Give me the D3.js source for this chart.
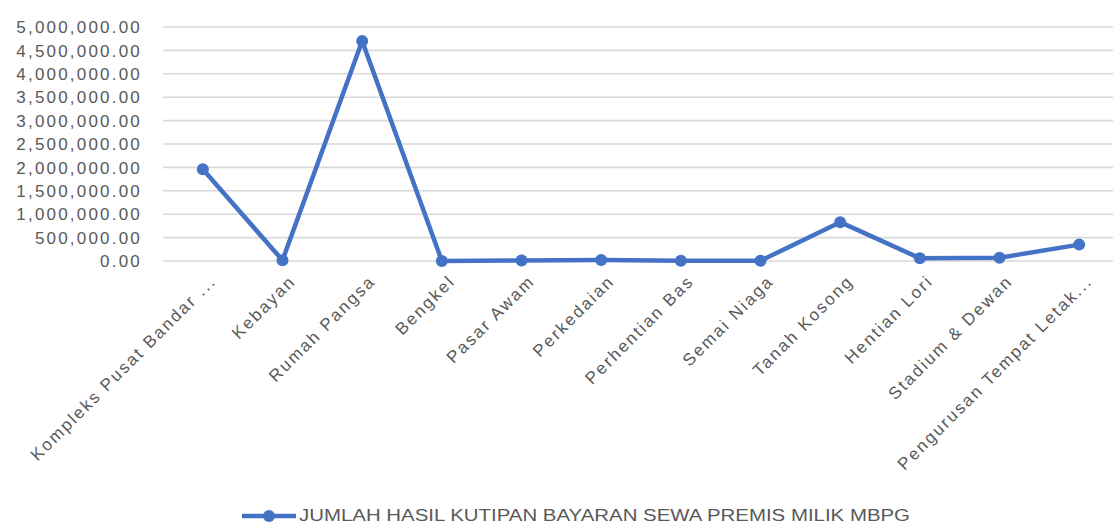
<!DOCTYPE html>
<html>
<head>
<meta charset="utf-8">
<script src="https://cdn.jsdelivr.net/npm/d3@7"></script>
<style>
  html, body { margin: 0; padding: 0; background: #fff; }
  svg { display: block; }
  text { font-family: "Liberation Sans", Arial, sans-serif; fill: #595959; }
</style>
</head>
<body>
<svg id="chart" width="1113" height="525"></svg>
<script>
const categories = [
  "Kompleks Pusat Bandar ...",
  "Kebayan",
  "Rumah Pangsa",
  "Bengkel",
  "Pasar Awam",
  "Perkedaian",
  "Perhentian Bas",
  "Semai Niaga",
  "Tanah Kosong",
  "Hentian Lori",
  "Stadium & Dewan",
  "Pengurusan Tempat Letak..."
];
const values = [1960000, 15000, 4700000, 2000, 10000, 20000, 3000, 5000, 830000, 60000, 70000, 350000];
const yTicks = [0, 500000, 1000000, 1500000, 2000000, 2500000, 3000000, 3500000, 4000000, 4500000, 5000000];
const seriesName = "JUMLAH HASIL KUTIPAN BAYARAN SEWA PREMIS MILIK MBPG";

const svg = d3.select("#chart");
const blue = "#4472C4";

const x = d3.scalePoint().domain(categories).range([163, 1119]).padding(0.5);
const y = d3.scaleLinear().domain([0, 5000000]).range([261, 27]);

const fmt = d3.format(",.2f");

// gridlines
svg.append("g").selectAll("line").data(yTicks).join("line")
  .attr("x1", 163).attr("x2", 1119)
  .attr("y1", d => y(d)).attr("y2", d => y(d))
  .attr("stroke", "#d9d9d9").attr("stroke-width", 1.6);

// y labels
svg.append("g").selectAll("text").data(yTicks).join("text")
  .attr("x", 142).attr("y", d => y(d))
  .attr("dy", "0.36em")
  .attr("text-anchor", "end")
  .style("font-size", "17px")
  .style("letter-spacing", "2.2px")
  .text(d => fmt(d));

// x labels
svg.append("g").selectAll("text").data(categories).join("text")
  .attr("transform", d => `translate(${x(d) + 10},${278}) rotate(-45)`)
  .attr("dy", "0.35em")
  .attr("text-anchor", "end")
  .style("font-size", "17px")
  .style("letter-spacing", "2.1px")
  .text(d => d);

// line
const line = d3.line().x((d, i) => x(categories[i])).y(d => y(d));
svg.append("path").datum(values)
  .attr("d", line)
  .attr("fill", "none")
  .attr("stroke", blue)
  .attr("stroke-width", 4.5)
  .attr("stroke-linejoin", "round");

svg.append("g").selectAll("circle").data(values).join("circle")
  .attr("cx", (d, i) => x(categories[i]))
  .attr("cy", d => y(d))
  .attr("r", 6)
  .attr("fill", blue);

// legend
const lg = svg.append("g");
lg.append("line").attr("x1", 242).attr("x2", 296).attr("y1", 516).attr("y2", 516)
  .attr("stroke", blue).attr("stroke-width", 4.5);
lg.append("circle").attr("cx", 269).attr("cy", 516).attr("r", 6).attr("fill", blue);
lg.append("text").attr("x", 299).attr("y", 521)
  .style("font-size", "16px")
  .attr("textLength", 611).attr("lengthAdjust", "spacingAndGlyphs")
  .text(seriesName);
</script>
</body>
</html>
